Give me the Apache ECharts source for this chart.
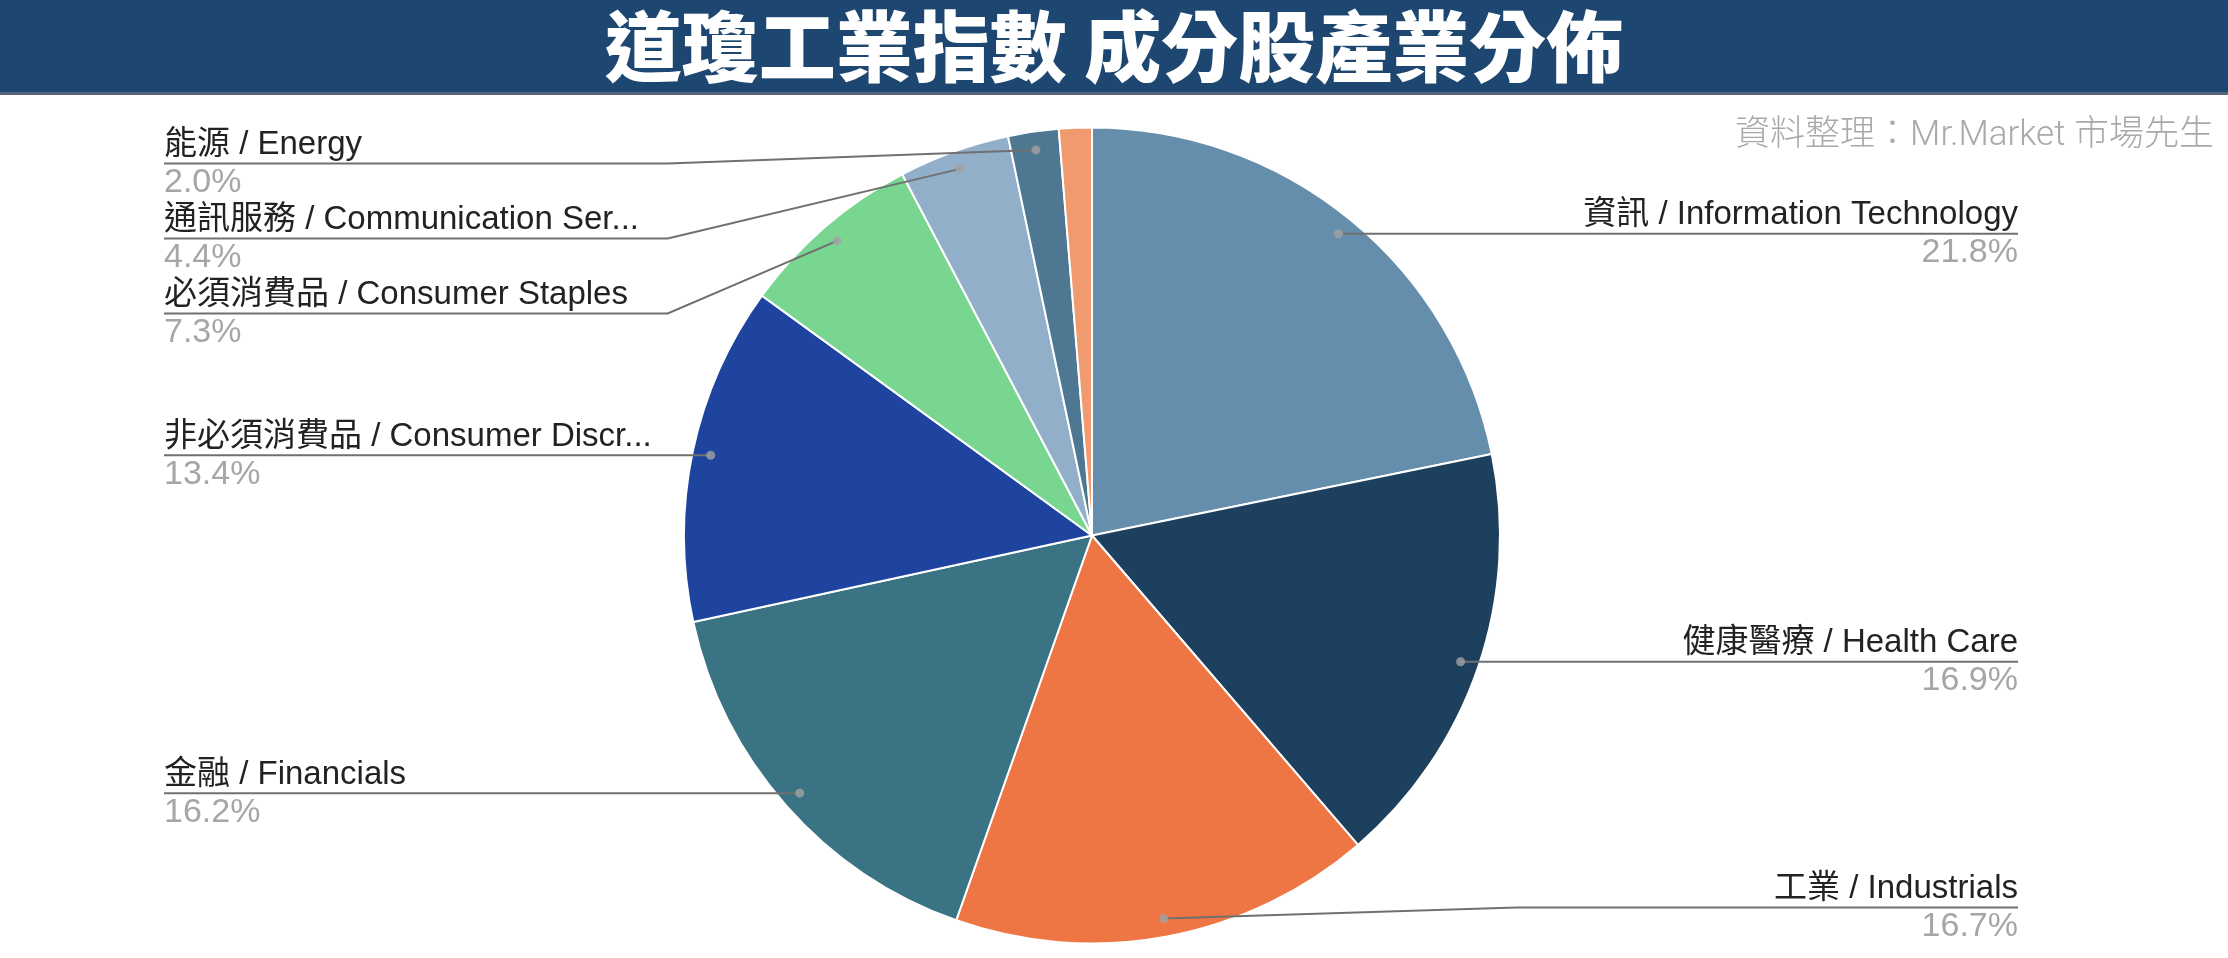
<!DOCTYPE html>
<html><head><meta charset="utf-8">
<script src="https://cdn.jsdelivr.net/npm/echarts/dist/echarts.min.js"></script>
<style>html,body{margin:0;padding:0;background:#fff}#c{width:2228px;height:958px}</style>
</head><body><div id="c"></div>
<script>
// ---- data ----
const categories = [
  '資訊 / Information Technology',
  '健康醫療 / Health Care',
  '工業 / Industrials',
  '金融 / Financials',
  '非必須消費品 / Consumer Discr...',
  '必須消費品 / Consumer Staples',
  '通訊服務 / Communication Ser...',
  '能源 / Energy',
  '原物料 / Materials'
];
const weights = [21.8, 16.9, 16.7, 16.2, 13.4, 7.3, 4.4, 2.0, 1.3];
const showLabel = [true, true, true, true, true, true, true, true, false];
const colors = ['#658EAC', '#1C405E', '#EE7644', '#3A7383', '#1E44A0', '#78D691', '#91AFC8', '#4E7791', '#F09A70'];
const titleText = '道瓊工業指數 成分股產業分佈';
const sourceText = '資料整理：Mr.Market 市場先生';

// ---- layout constants ----
const W = 2228, H = 958;
const CX = 1092, CY = 535.5, R = 408;
const RDOT = 0.955 * R, BEND = 1.04 * R;
const LABEL_LEFT = 164, LABEL_RIGHT = 2018;
const LABEL_H = 75, LABEL_TOP = 126, LABEL_BOTTOM = 945;
const LATIN = '"Liberation Sans", Arial, "Noto Sans CJK TC", sans-serif';

const total = weights.reduce((a, b) => a + b, 0);
let cum = 0;
const mids = [], dots = [];
weights.forEach(v => {
  const m = cum + v / 2; mids.push(m); cum += v;
  const a = 2 * Math.PI * m / total;
  dots.push([CX + RDOT * Math.sin(a), CY - RDOT * Math.cos(a)]);
});
// label stacking per side (avoid overlap, keep inside bounds)
const labelY = {};
['L', 'R'].forEach(side => {
  const idx = weights.map((v, i) => i).filter(i => showLabel[i] && ((dots[i][0] < CX) === (side === 'L')));
  idx.sort((a, b) => dots[a][1] - dots[b][1]);
  const ys = idx.map(i => dots[i][1]);
  for (let k = 0; k < ys.length; k++) ys[k] = Math.max(ys[k], LABEL_TOP + LABEL_H / 2, k ? ys[k - 1] + LABEL_H : -Infinity);
  for (let k = ys.length - 1; k >= 0; k--) ys[k] = Math.min(ys[k], LABEL_BOTTOM - LABEL_H / 2, k < ys.length - 1 ? ys[k + 1] - LABEL_H : Infinity);
  idx.forEach((i, k) => labelY[i] = ys[k]);
});

const chart = echarts.init(document.getElementById('c'));
const viewLeft = LABEL_LEFT - 10, viewRight = W - LABEL_RIGHT - 10;
chart.setOption({
  animation: false,
  backgroundColor: '#fff',
  graphic: [
    { type: 'rect', shape: { x: 0, y: 0, width: W, height: 92 }, style: { fill: '#1D4770' }, z: 0, silent: true },
    { type: 'rect', shape: { x: 0, y: 92, width: W, height: 3 }, style: { fill: '#56677a' }, z: 0, silent: true }
  ],
  title: [
    { text: titleText, left: 'center', top: 8, padding: 0, z: 10,
      textStyle: { color: '#fff', fontSize: 77, fontWeight: 900, fontFamily: '"Noto Sans CJK TC", sans-serif' } },
    { text: sourceText, right: 14, top: 119, padding: 0,
      textStyle: { color: '#a9a9a9', fontSize: 35, fontWeight: 300, fontFamily: 'Roboto, "Noto Sans CJK TC", sans-serif' } }
  ],
  polar: { center: [CX, CY], radius: RDOT },
  angleAxis: { type: 'value', min: 0, max: total, startAngle: 90, clockwise: true, show: false },
  radiusAxis: { type: 'value', min: 0, max: 1, show: false },
  series: [
    {
      // visible slices
      type: 'pie', z: 2,
      left: viewLeft, right: viewRight, top: 0, bottom: 0,
      center: [CX - viewLeft, CY],
      radius: R,
      startAngle: 90, clockwise: true,
      itemStyle: { borderColor: '#ffffff', borderWidth: 2 },
      emphasis: { disabled: true },
      label: { show: false }, labelLine: { show: false },
      data: categories.map((n, i) => ({ name: n, value: weights[i], itemStyle: { color: colors[i] } }))
    },
    {
      // transparent overlay carrying labels and leader lines above the slices
      type: 'pie', z: 4, silent: true,
      left: viewLeft, right: viewRight, top: 0, bottom: 0,
      center: [CX - viewLeft, CY],
      radius: R,
      startAngle: 90, clockwise: true,
      itemStyle: { color: 'rgba(0,0,0,0)', borderWidth: 0 },
      emphasis: { disabled: true },
      label: {
        show: true, position: 'outer', alignTo: 'edge', edgeDistance: 10,
        formatter: p => '{n|' + p.name + '}\n{p|' + p.value.toFixed(1) + '%}',
        rich: {
          n: { fontSize: 33, lineHeight: 38, color: '#222222', fontFamily: LATIN },
          p: { fontSize: 34, lineHeight: 37, color: '#a6a6a6', fontFamily: LATIN }
        }
      },
      labelLine: { show: true, length: 0, length2: 0, lineStyle: { color: '#707070', width: 2 } },
      labelLayout: function (params) {
        const i = params.dataIndex;
        if (!showLabel[i]) return {};
        const y = labelY[i], d = dots[i], isLeft = d[0] < CX;
        const r = params.labelRect;
        const endX = isLeft ? r.x : r.x + r.width;
        const bx = isLeft ? Math.min(d[0], CX - BEND) : Math.max(d[0], CX + BEND);
        return { y: y, labelLinePoints: [[d[0], d[1]], [bx, y], [endX, y]] };
      },
      data: categories.map((n, i) => ({
        name: n, value: weights[i],
        label: { show: showLabel[i] }, labelLine: { show: showLabel[i] }
      }))
    },
    {
      type: 'scatter', coordinateSystem: 'polar', symbolSize: 9, z: 6, silent: true,
      itemStyle: { color: '#a3a3a3' },
      data: mids.map((m, i) => showLabel[i] ? [1, m] : null).filter(x => x)
    }
  ]
});
</script></body></html>
